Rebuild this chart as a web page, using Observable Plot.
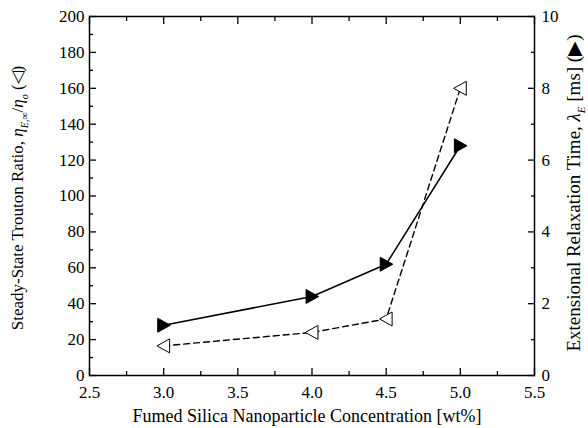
<!DOCTYPE html>
<html>
<head>
<meta charset="utf-8">
<script src="https://cdn.jsdelivr.net/npm/d3@7"></script>
<script src="https://cdn.jsdelivr.net/npm/@observablehq/plot@0.6"></script>
<style>
  html, body { margin: 0; padding: 0; background: #fff; }
  svg { display: block; }
</style>
</head>
<body>
<div id="chart"></div>
<script>
// Data
const concentration = [3.0, 4.0, 4.5, 5.0];           // wt%
const troutonRatio = [16.5, 24, 31.5, 160];            // left axis (open triangles)
const relaxationTime = [1.4, 2.2, 3.1, 6.4];           // ms, right axis (filled triangles)

const xTicks = [2.5, 3.0, 3.5, 4.0, 4.5, 5.0, 5.5];
const xMinorTicks = [2.75, 3.25, 3.75, 4.25, 4.75, 5.25];
const yTicks = [0, 20, 40, 60, 80, 100, 120, 140, 160, 180, 200];
const yMinorTicks = [10, 30, 50, 70, 90, 110, 130, 150, 170, 190];
const y2Ticks = [0, 2, 4, 6, 8, 10];
const y2MinorTicks = [1, 3, 5, 7, 9];

const scaleFactor = 20; // 10 ms on right axis ↔ 200 on left axis

const trouton = concentration.map((c, i) => ({x: c, y: troutonRatio[i]}));
const relax = concentration.map((c, i) => ({x: c, y: relaxationTime[i] * scaleFactor}));

const triRight = {
  draw(ctx, size) {
    const r = Math.sqrt(size / Math.PI);
    ctx.moveTo(r * 0.95, 0);
    ctx.lineTo(-r * 0.85, -r);
    ctx.lineTo(-r * 0.85, r);
    ctx.closePath();
  }
};
const triLeft = {
  draw(ctx, size) {
    const r = Math.sqrt(size / Math.PI);
    ctx.moveTo(-r * 0.95, 0);
    ctx.lineTo(r * 0.85, -r);
    ctx.lineTo(r * 0.85, r);
    ctx.closePath();
  }
};

const font = "'Liberation Serif', 'Times New Roman', serif";
const W = 588, H = 428;

const chart = Plot.plot({
  width: W,
  height: H,
  marginLeft: 89,
  marginRight: 54,
  marginTop: 16,
  marginBottom: 53,
  style: {fontFamily: font, fontSize: "17px", color: "black", background: "white"},
  x: {domain: [2.5, 5.5]},
  y: {domain: [0, 200]},
  marks: [
    // bottom axis
    Plot.axisX({anchor: "bottom", ticks: xTicks, tickSize: -7, tickFormat: () => "", label: null, strokeWidth: 1.3}),
    Plot.axisX({anchor: "bottom", ticks: xMinorTicks, tickSize: -4, tickFormat: () => "", label: null, strokeWidth: 1.3}),
    Plot.axisX({anchor: "bottom", ticks: xTicks, tickSize: 0, tickPadding: 10, tickFormat: d3.format(".1f"), label: null, fontSize: 17}),
    // top axis ticks
    Plot.axisX({anchor: "top", ticks: xTicks, tickSize: -7, tickFormat: () => "", label: null, strokeWidth: 1.3}),
    Plot.axisX({anchor: "top", ticks: xMinorTicks, tickSize: -4, tickFormat: () => "", label: null, strokeWidth: 1.3}),
    // left axis
    Plot.axisY({anchor: "left", ticks: yTicks, tickSize: -7, tickFormat: () => "", label: null, strokeWidth: 1.3}),
    Plot.axisY({anchor: "left", ticks: yMinorTicks, tickSize: -4, tickFormat: () => "", label: null, strokeWidth: 1.3}),
    Plot.axisY({anchor: "left", ticks: yTicks, tickSize: 0, tickPadding: 5, label: null, fontSize: 17}),
    // right axis (relaxation time)
    Plot.axisY({anchor: "right", ticks: y2Ticks.map(d => d * scaleFactor), tickSize: -7, tickFormat: () => "", label: null, strokeWidth: 1.3}),
    Plot.axisY({anchor: "right", ticks: y2MinorTicks.map(d => d * scaleFactor), tickSize: -4, tickFormat: () => "", label: null, strokeWidth: 1.3}),
    Plot.axisY({anchor: "right", ticks: y2Ticks.map(d => d * scaleFactor), tickSize: 0, tickPadding: 7, tickFormat: d => String(d / scaleFactor), label: null, fontSize: 17}),
    Plot.frame({stroke: "black", strokeWidth: 1.5}),
    // series
    Plot.line(trouton, {x: "x", y: "y", stroke: "black", strokeWidth: 1.4, strokeDasharray: "6,4"}),
    Plot.line(relax, {x: "x", y: "y", stroke: "black", strokeWidth: 1.5}),
    Plot.dot(trouton, {x: "x", y: "y", symbol: triLeft, r: 7, fill: "white", stroke: "black", strokeWidth: 1}),
    Plot.dot(relax, {x: "x", y: "y", symbol: triRight, r: 7, fill: "black", stroke: "black", strokeWidth: 1})
  ]
});

document.getElementById("chart").appendChild(chart);

const svg = d3.select(chart);
// x-axis label
svg.append("text")
  .attr("x", 307).attr("y", 422)
  .attr("text-anchor", "middle")
  .style("font-family", font).style("font-size", "18px")
  .text("Fumed Silica Nanoparticle Concentration [wt%]");

// left y label
const ly = svg.append("text")
  .attr("transform", "translate(23,198) rotate(-90)")
  .attr("text-anchor", "middle")
  .style("font-family", font).style("font-size", "17px");
ly.append("tspan").text("Steady-State Trouton Ratio, ");
ly.append("tspan").style("font-style", "italic").text("η");
ly.append("tspan").attr("dy", 5).style("font-size", "10px").style("font-style", "italic").text("E,∞");
ly.append("tspan").attr("dy", -5).text("/");
ly.append("tspan").style("font-style", "italic").text("η");
ly.append("tspan").attr("dy", 5).style("font-size", "10px").style("font-style", "italic").text("o");
ly.append("tspan").attr("dy", -5).text(" (◁)");

// right y label
const ry = svg.append("text")
  .attr("transform", "translate(580,193) rotate(-90)")
  .attr("text-anchor", "middle")
  .style("font-family", font).style("font-size", "19px");
ry.append("tspan").text("Extensional Relaxation Time, ");
ry.append("tspan").style("font-style", "italic").text("λ");
ry.append("tspan").attr("dy", 5).style("font-size", "11px").style("font-style", "italic").text("E");
ry.append("tspan").attr("dy", -5).text(" [ms] (▶)");
</script>
</body>
</html>
